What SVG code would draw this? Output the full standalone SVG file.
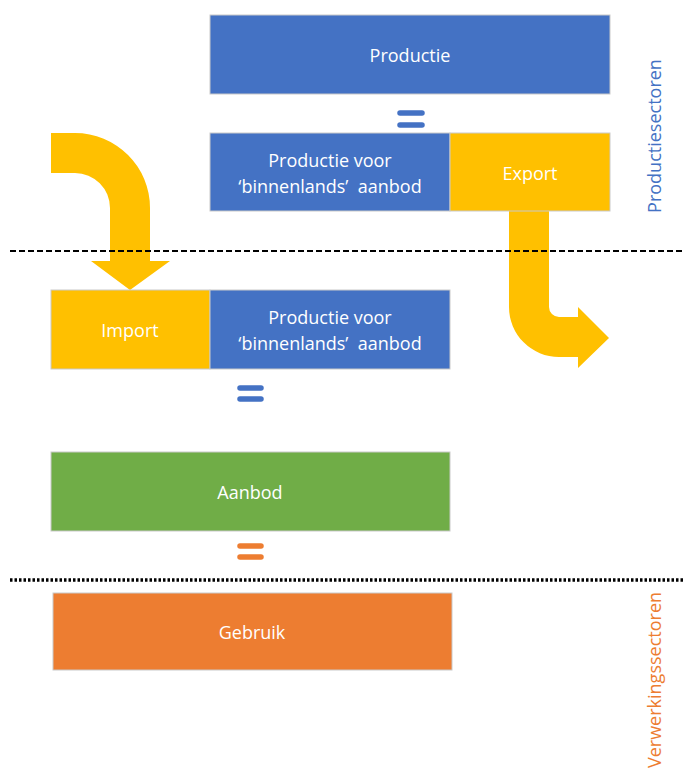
<svg xmlns="http://www.w3.org/2000/svg" width="683" height="770" viewBox="0 0 683 770">
  <style>
    .box { stroke: #c9c9c9; stroke-width: 1; }
    .blue { fill: #4472C4; }
    .yellow { fill: #FFC000; }
    .green { fill: #70AD47; }
    .orange { fill: #ED7D31; }
    .lbl { font-family: "Open Sans", "Noto Sans", "Liberation Sans", sans-serif; font-size: 18px; fill: #ffffff; text-anchor: middle; dominant-baseline: central; }
    .side { font-family: "Open Sans", "Noto Sans", "Liberation Sans", sans-serif; font-size: 18px; text-anchor: middle; dominant-baseline: central; }
    .eq { stroke-width: 5.5; stroke-linecap: round; fill: none; }
  </style>

  <!-- Flow arrows -->
  <g id="connectors">
    <path id="import-arrow" class="yellow" d="M51,133 L75,133 A75,75 0 0 1 150,208 L150,261 L170,261 L130,290 L91,261 L110,261 L110,208 A35,35 0 0 0 75,173 L51,173 Z"/>
    <path id="export-arrow" class="yellow" d="M509,211 L549,211 L549,307 A10,10 0 0 0 559,317 L578,317 L578,307 L609,338 L578,368 L578,357 L559,357 A50,50 0 0 1 509,307 Z"/>
  </g>

  <!-- Sector boundaries -->
  <line x1="10" y1="251" x2="683" y2="251" stroke="#000" stroke-width="2" stroke-dasharray="6,3"/>
  <line x1="10" y1="580" x2="683" y2="580" stroke="#000" stroke-width="3.5" stroke-dasharray="2.5,2"/>

  <g id="productie">
    <rect class="box blue" x="210" y="15" width="400" height="79"/>
    <text class="lbl" x="410" y="55">Productie</text>
  </g>

  <g id="eq-1">
    <line class="eq" x1="400" y1="113" x2="422" y2="113" stroke="#4472C4"/>
    <line class="eq" x1="400" y1="125" x2="422" y2="125" stroke="#4472C4"/>
  </g>

  <g id="productie-binnenland-1">
    <rect class="box blue" x="210" y="133" width="240" height="78"/>
    <text class="lbl" x="330" y="160">Productie voor</text>
    <text class="lbl" x="330" y="186">‘binnenlands’&#160; aanbod</text>
  </g>

  <g id="export">
    <rect class="box yellow" x="450" y="133" width="160" height="78"/>
    <text class="lbl" x="530" y="173">Export</text>
  </g>

  <g id="import">
    <rect class="box yellow" x="51" y="290" width="159" height="79"/>
    <text class="lbl" x="130" y="330">Import</text>
  </g>

  <g id="productie-binnenland-2">
    <rect class="box blue" x="210" y="290" width="240" height="79"/>
    <text class="lbl" x="330" y="317">Productie voor</text>
    <text class="lbl" x="330" y="343">‘binnenlands’&#160; aanbod</text>
  </g>

  <g id="eq-2">
    <line class="eq" x1="240" y1="388" x2="261" y2="388" stroke="#4472C4"/>
    <line class="eq" x1="240" y1="399" x2="261" y2="399" stroke="#4472C4"/>
  </g>

  <g id="aanbod">
    <rect class="box green" x="51" y="452" width="399" height="79"/>
    <text class="lbl" x="250" y="492">Aanbod</text>
  </g>

  <g id="eq-3">
    <line class="eq" x1="240" y1="546" x2="261" y2="546" stroke="#ED7D31"/>
    <line class="eq" x1="240" y1="557" x2="261" y2="557" stroke="#ED7D31"/>
  </g>

  <g id="gebruik">
    <rect class="box orange" x="53" y="593" width="399" height="77"/>
    <text class="lbl" x="252" y="632">Gebruik</text>
  </g>

  <g id="sector-labels">
    <text class="side" fill="#4472C4" transform="translate(654,136) rotate(-90)">Productiesectoren</text>
    <text class="side" fill="#ED7D31" transform="translate(654,680) rotate(-90)">Verwerkingssectoren</text>
  </g>
</svg>
